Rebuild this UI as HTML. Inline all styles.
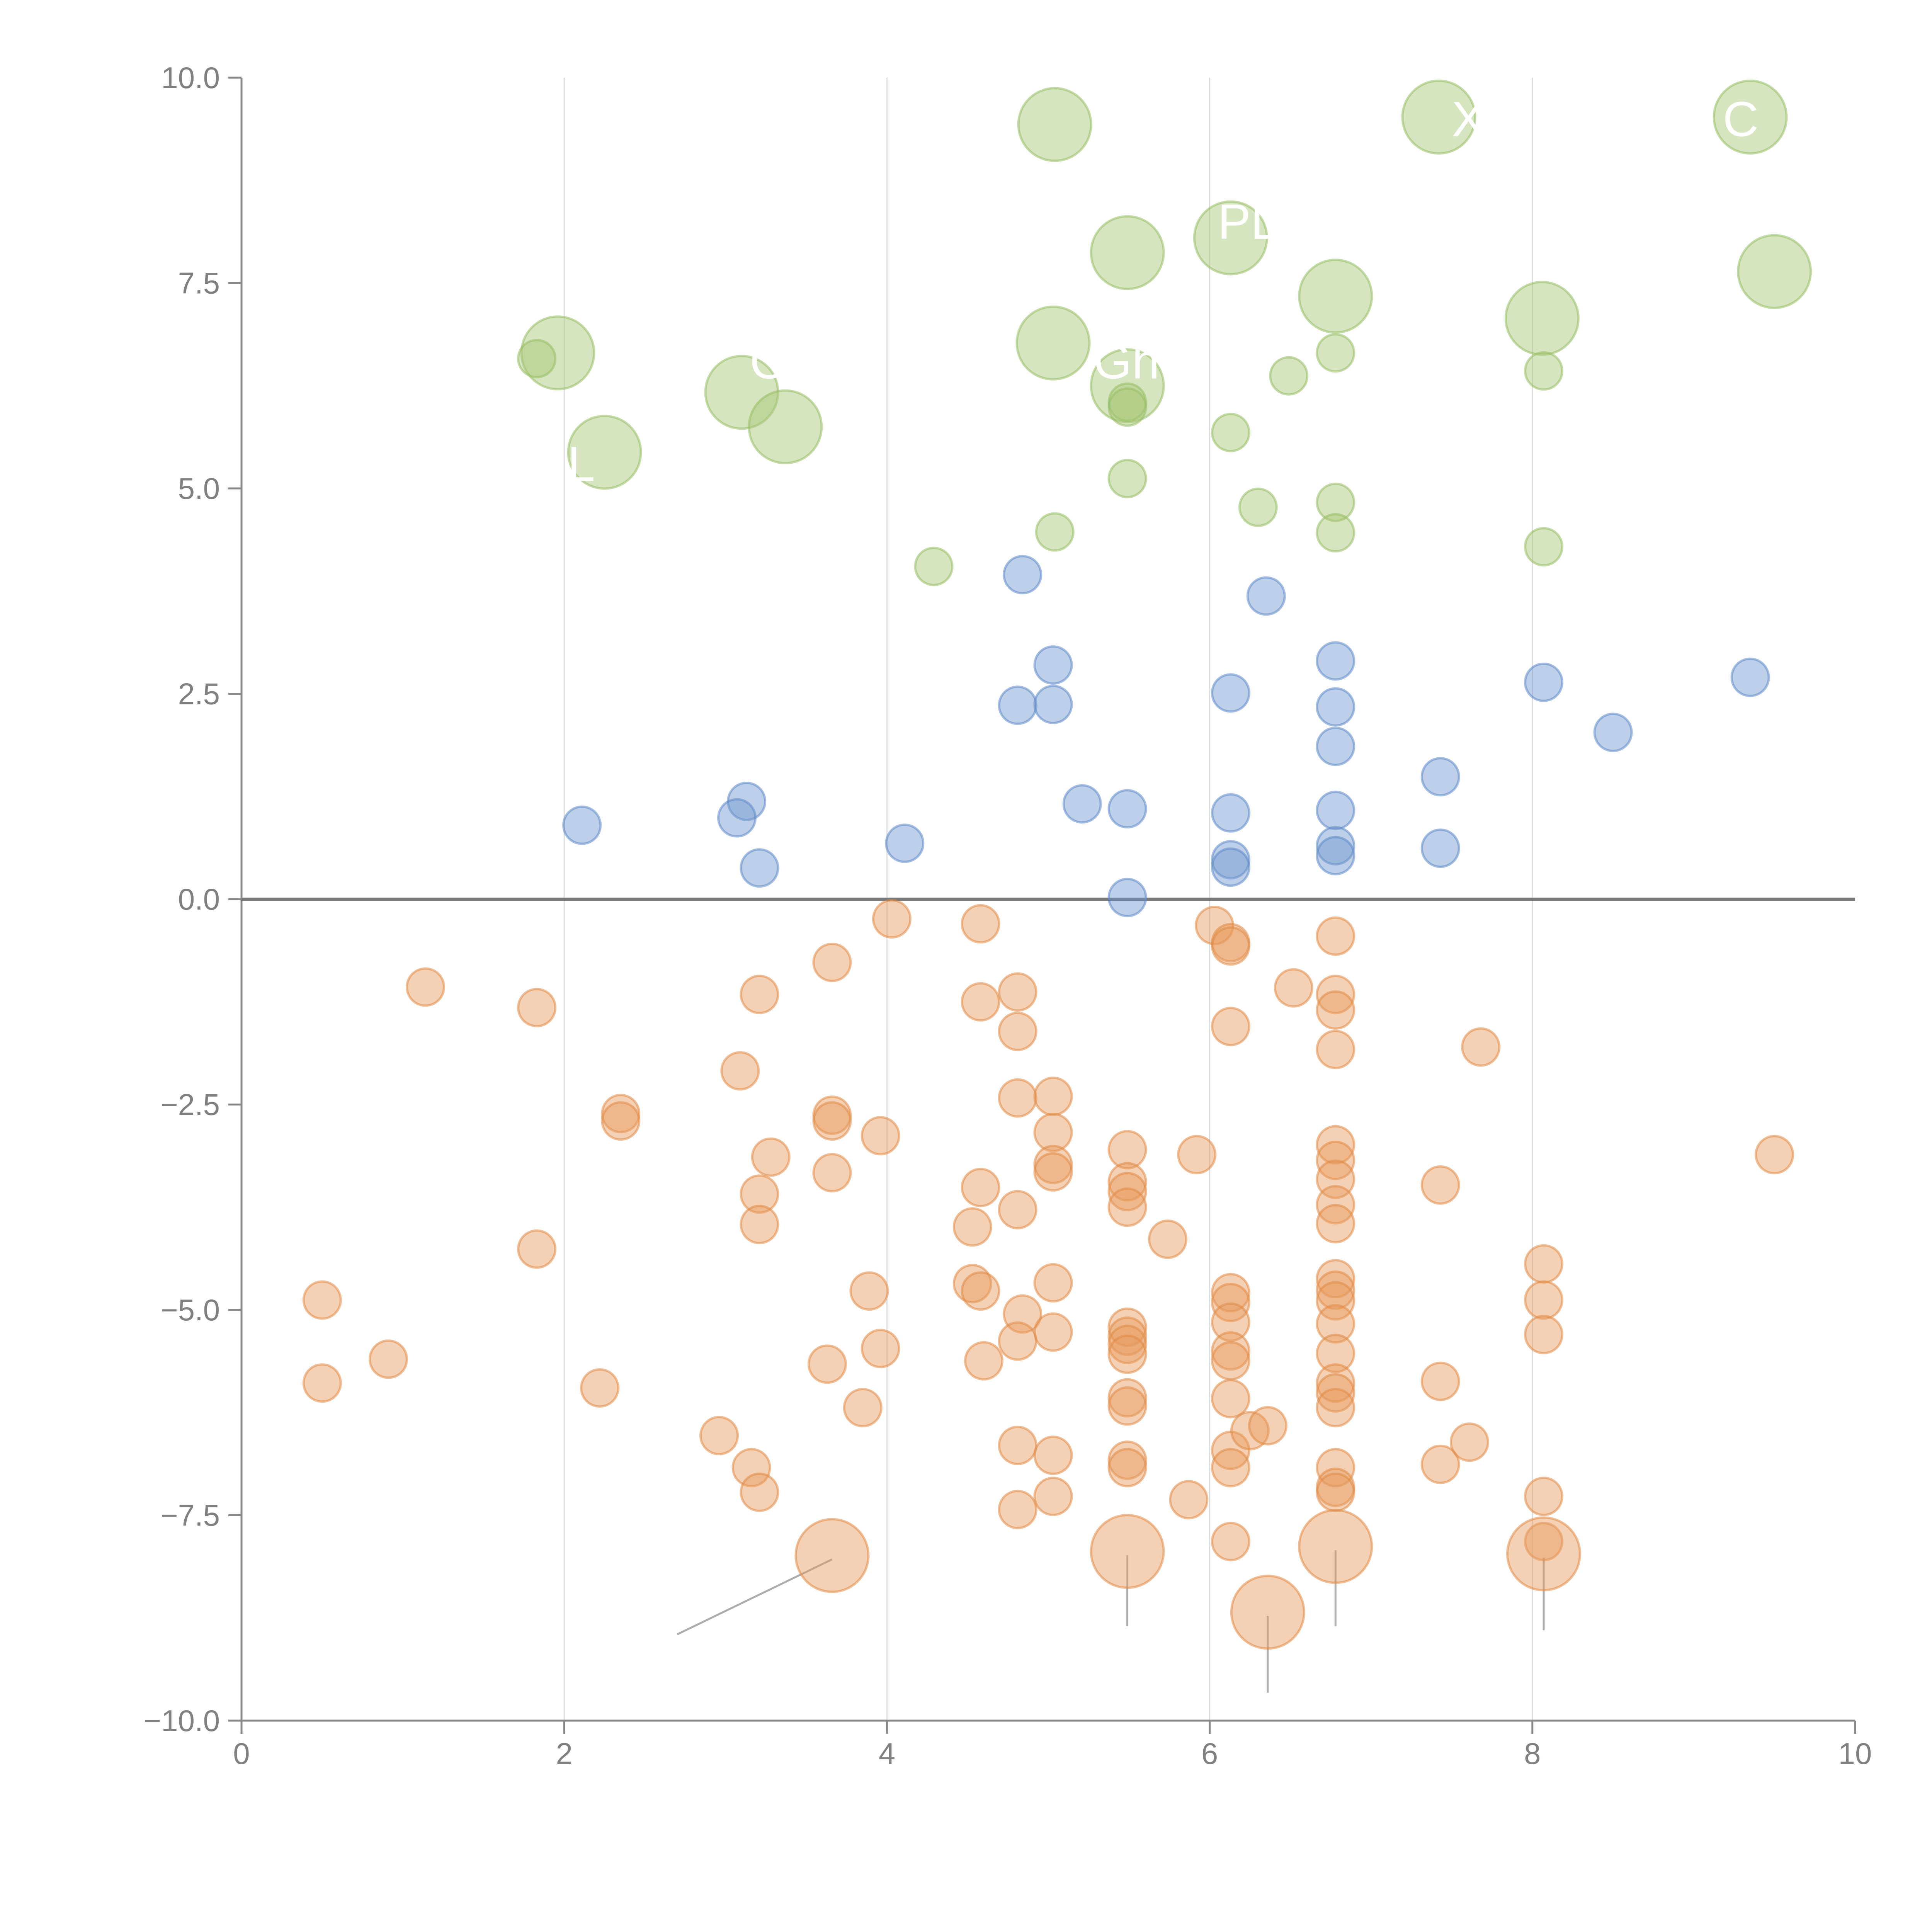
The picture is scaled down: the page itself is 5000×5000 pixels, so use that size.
<!DOCTYPE html>
<html><head><meta charset="utf-8"><style>
html,body{margin:0;padding:0;background:#fff;}
svg{display:block;}
text{font-family:"Liberation Sans",Arial,sans-serif;}
</style></head>
<body>
<svg id="chart" width="5000" height="5000" viewBox="0 0 5000 5000" xmlns="http://www.w3.org/2000/svg">
<g id="grid"></g>
<g id="axes"></g>
<g id="leaders"></g>
<g id="marks"></g>
<g id="labels"></g>
</svg>
<script>
const xTicks=[0,2,4,6,8,10];
const yTicks=[-10,-7.5,-5,-2.5,0,2.5,5,7.5,10];
const yTickLabels=["\u221210.0","\u22127.5","\u22125.0","\u22122.5","0.0","2.5","5.0","7.5","10.0"];
const greenBigX=[5.04,7.42,9.35,6.13,5.49,6.78,9.50,8.06,1.96,5.03,3.10,3.37,5.49,2.25];
const greenBigY=[9.43,9.52,9.52,8.05,7.87,7.34,7.64,7.07,6.65,6.77,6.17,5.75,6.25,5.44];
const greenX=[1.83,6.78,6.49,8.07,5.49,5.49,6.13,5.49,6.30,6.78,6.78,5.04,4.29,8.07];
const greenY=[6.58,6.65,6.37,6.43,6.05,5.99,5.68,5.12,4.77,4.83,4.46,4.47,4.05,4.29];
const blueX=[4.84,6.35,5.03,6.78,4.81,5.03,6.13,6.78,6.78,8.07,9.35,8.50,7.43,2.11,3.13,3.07,3.21,4.11,5.21,5.49,6.13,6.78,6.13,6.13,6.78,6.78,7.43,5.49];
const blueY=[3.95,3.69,2.85,2.90,2.36,2.37,2.51,2.34,1.86,2.64,2.70,2.03,1.49,0.90,1.19,0.99,0.38,0.68,1.16,1.10,1.05,1.08,0.48,0.39,0.65,0.53,0.62,0.02];
const orangeX=[4.03,4.58,3.66,6.03,6.13,6.13,6.78,1.14,1.83,3.21,4.58,4.81,4.81,6.52,6.78,6.78,6.78,6.13,7.68,3.09,2.35,2.35,3.66,3.66,3.96,4.81,5.03,5.03,5.03,5.03,3.28,3.66,3.21,3.21,4.58,4.81,4.53,5.49,5.49,5.49,5.49,5.92,5.74,6.78,6.78,6.78,6.78,6.78,7.43,9.50,1.83,0.50,0.50,0.91,2.22,3.89,3.96,3.63,3.85,2.96,3.16,3.21,4.53,4.58,4.84,4.81,4.60,5.03,5.03,4.81,5.03,4.81,5.03,5.49,5.49,5.49,5.49,5.49,5.49,5.49,5.49,5.87,6.13,6.13,6.13,6.13,6.13,6.13,6.13,6.13,6.13,6.25,6.36,6.78,6.78,6.78,6.78,6.78,6.78,6.78,6.78,6.78,6.78,6.78,7.43,7.43,7.61,8.07,8.07,8.07,8.07,8.07];
const orangeY=[-0.24,-0.30,-0.77,-0.32,-0.53,-0.57,-0.45,-1.07,-1.32,-1.16,-1.25,-1.13,-1.61,-1.08,-1.16,-1.35,-1.83,-1.55,-1.80,-2.09,-2.61,-2.70,-2.63,-2.70,-2.88,-2.42,-2.40,-2.84,-3.23,-3.32,-3.14,-3.33,-3.59,-3.96,-3.51,-3.78,-3.99,-3.05,-3.44,-3.56,-3.75,-3.11,-4.14,-2.99,-3.18,-3.41,-3.72,-3.95,-3.48,-3.11,-4.26,-4.88,-5.89,-5.60,-5.95,-4.77,-5.47,-5.66,-6.19,-6.53,-6.92,-7.22,-4.68,-4.77,-5.05,-5.38,-5.62,-4.67,-5.27,-6.65,-6.77,-7.43,-7.27,-5.21,-5.32,-5.42,-5.54,-6.07,-6.17,-6.83,-6.92,-7.31,-4.79,-4.91,-5.15,-5.50,-5.62,-6.08,-6.71,-6.92,-7.82,-6.47,-6.41,-4.62,-4.76,-4.89,-5.17,-5.53,-5.89,-6.01,-6.19,-6.92,-7.16,-7.22,-5.87,-6.88,-6.61,-4.44,-4.88,-5.30,-7.27,-7.82];
const orangeBigX=[3.66,5.49,6.78,6.36,8.07];
const orangeBigY=[-7.99,-7.94,-7.88,-8.68,-7.97];
const leaderEndX=[2.70,5.49,6.78,6.36,8.07];
const leaderEndY=[-8.95,-8.85,-8.85,-9.66,-8.9];
const labelText=["X","C","PL","Gh","O","L"];
const labelX=[7.50,9.18,6.05,5.28,3.15,2.02];
const labelY=[9.50,9.50,8.25,6.55,6.55,5.30];

const X0=625,X1=4801,Y0=4453,Y1=201;
const sx=v=>X0+(v-0)/(10-0)*(X1-X0);
const sy=v=>Y0-(v+10)/20*(Y0-Y1);
const NS="http://www.w3.org/2000/svg";
function mk(tag,parent,attrs){const e=document.createElementNS(NS,tag);for(const k in attrs)e.setAttribute(k,attrs[k]);parent.appendChild(e);return e;}
const grid=document.getElementById('grid'),axes=document.getElementById('axes'),marks=document.getElementById('marks'),leaders=document.getElementById('leaders'),labels=document.getElementById('labels');

xTicks.forEach(t=>{
  if(t>0&&t<10){const g=mk('line',grid,{x1:sx(t),x2:sx(t),y1:Y1,y2:Y0,stroke:'#dcdcdc','stroke-width':3});
  
  }
  const tk=mk('line',axes,{x1:sx(t),x2:sx(t),y1:Y0,y2:Y0+34,stroke:'#888','stroke-width':5});
  
  
  const tx=mk('text',axes,{x:sx(t),y:Y0+112,'text-anchor':'middle','font-size':78,fill:'#808080'});
  tx.textContent=String(t);
  
  
});
yTicks.forEach((t,i)=>{
  const tk=mk('line',axes,{x1:X0-34,x2:X0,y1:sy(t),y2:sy(t),stroke:'#888','stroke-width':5});
  
  
  const tx=mk('text',axes,{x:X0-56,y:sy(t)+27,'text-anchor':'end','font-size':78,fill:'#808080'});
  tx.textContent=yTickLabels[i];
  
  
});
const ya=mk('line',axes,{x1:X0,x2:X0,y1:Y1,y2:Y0,stroke:'#888','stroke-width':5});


const xa=mk('line',axes,{x1:X0,x2:X1,y1:Y0,y2:Y0,stroke:'#888','stroke-width':5});


const zl=mk('line',axes,{x1:X0,x2:X1,y1:sy(0),y2:sy(0),stroke:'#7a7a7a','stroke-width':8});



function bubbles(xs,ys,r,fill,stroke,name){
  xs.forEach((x,i)=>{
    const c=mk('circle',marks,{cx:sx(x),cy:sy(ys[i]),r:r,fill:fill,'fill-opacity':0.45,stroke:stroke,'stroke-opacity':0.55,'stroke-width':6});
    
    
  });
}
bubbles(greenBigX,greenBigY,94,'#a3c673','#98bd62','green-bubble-large');
bubbles(greenX,greenY,48,'#a3c673','#98bd62','green-bubble');
bubbles(blueX,blueY,48,'#6f97cf','#5d89c8','blue-bubble');
bubbles(orangeX,orangeY,48,'#e69a5a','#e08a45','orange-bubble');
bubbles(orangeBigX,orangeBigY,94,'#e69a5a','#e08a45','orange-bubble-large');

orangeBigX.forEach((x,i)=>{
  const l=mk('line',leaders,{x1:sx(x),y1:sy(orangeBigY[i])+10,x2:sx(leaderEndX[i]),y2:sy(leaderEndY[i]),stroke:'#999','stroke-width':5,'stroke-opacity':0.8});
  
  
});
labelText.forEach((s,i)=>{
  const t=mk('text',labels,{x:sx(labelX[i]),y:sy(labelY[i])+45,'font-size':128,fill:'#ffffff'});
  t.textContent=s;
  
  
});
</script>
</body></html>
